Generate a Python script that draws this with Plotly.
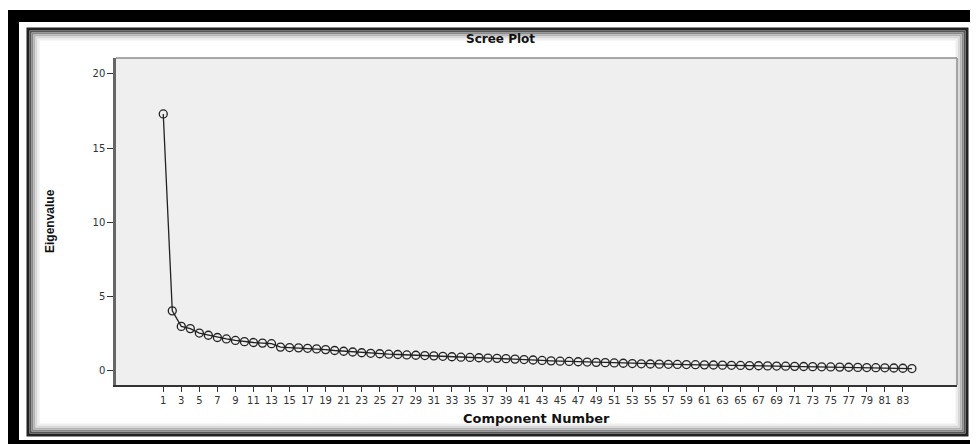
import plotly.graph_objects as go

components = list(range(1, 85))
eigenvalues = [
    17.3, 4.0, 2.95, 2.8, 2.5, 2.35, 2.2, 2.1, 2.0, 1.92,
    1.86, 1.82, 1.78, 1.55, 1.52, 1.50, 1.47, 1.43, 1.38, 1.32,
    1.27, 1.22, 1.17, 1.13, 1.10, 1.07, 1.05, 1.02, 1.00, 0.98,
    0.96, 0.93, 0.90, 0.87, 0.85, 0.83, 0.81, 0.79, 0.77, 0.74,
    0.71, 0.68, 0.65, 0.62, 0.60, 0.58, 0.56, 0.54, 0.52, 0.50,
    0.48, 0.46, 0.44, 0.42, 0.41, 0.40, 0.39, 0.38, 0.37, 0.36,
    0.35, 0.34, 0.33, 0.32, 0.31, 0.30, 0.29, 0.28, 0.27, 0.26,
    0.25, 0.24, 0.23, 0.22, 0.21, 0.20, 0.19, 0.18, 0.17, 0.16,
    0.15, 0.14, 0.12, 0.10,
]
x_tick_vals = list(range(1, 84, 2))
x_tick_text = [str(v) for v in x_tick_vals]
y_tick_vals = [0, 5, 10, 15, 20]

OFF = 8  # page body margin
W, H = 978 - OFF, 444 - OFF
# plot area in page pixels
L, R, T, B = 116, 957, 58, 385


def px(x):
    return (x - L) / (R - L)


def py(y):
    return (B - y) / (B - T)


fig = go.Figure()
fig.add_trace(go.Scatter(
    x=components, y=eigenvalues, mode="lines+markers",
    line=dict(color="#222222", width=1.3),
    marker=dict(symbol="circle-open", size=8, color="#222222",
                line=dict(color="#222222", width=1.3)),
    showlegend=False, hoverinfo="x+y",
))

shapes = []
# outer thick black frame
shapes.append(dict(type="rect", xref="paper", yref="paper",
                   x0=px(13), x1=px(986), y0=py(16), y1=py(446),
                   line=dict(color="black", width=12), fillcolor="rgba(0,0,0,0)", layer="above"))
# inner frame with bevel shadow
inner = [(0, "#222222", 3), (2.5, "#555555", 2), (4.5, "#8a8a8a", 2), (6.5, "#b5b5b5", 2),
         (8.5, "#d8d8d8", 2), (10.5, "#eeeeee", 2)]
for off, col, w in inner:
    shapes.append(dict(type="rect", xref="paper", yref="paper",
                       x0=px(28 + off), x1=px(967 - off), y0=py(29 + off), y1=py(435 - off),
                       line=dict(color=col, width=w), fillcolor="rgba(0,0,0,0)", layer="below"))
# top & right plot border (lighter)
shapes.append(dict(type="line", xref="paper", yref="paper", x0=0, x1=1, y0=1, y1=1,
                   line=dict(color="#8c8c8c", width=1.5)))
shapes.append(dict(type="line", xref="paper", yref="paper", x0=1, x1=1, y0=0, y1=1,
                   line=dict(color="#8c8c8c", width=1.5)))

annotations = [
    dict(text="<b>Scree Plot</b>", xref="paper", yref="paper", x=px(500), y=py(39),
         showarrow=False, font=dict(family="DejaVu Sans, Liberation Sans", size=12, color="#111111"),
         xanchor="center", yanchor="middle"),
    dict(text="<b>Eigenvalue</b>", xref="paper", yref="paper", x=px(50), y=py(221),
         showarrow=False, textangle=-90,
         font=dict(family="Liberation Sans Narrow, Liberation Sans, Arial", size=12, color="#111111"),
         xanchor="center", yanchor="middle"),
    dict(text="<b>Component Number</b>", xref="paper", yref="paper", x=px(536), y=py(418),
         showarrow=False, font=dict(family="DejaVu Sans, Liberation Sans", size=13, color="#111111"),
         xanchor="center", yanchor="middle"),
]

fig.update_layout(
    width=W, height=H,
    margin=dict(l=L - OFF, r=W - (R - OFF), t=T - OFF, b=H - (B - OFF), pad=0),
    paper_bgcolor="white", plot_bgcolor="#efefef",
    shapes=shapes, annotations=annotations,
    font=dict(family="DejaVu Sans, Liberation Sans", size=10, color="#333333"),
    xaxis=dict(range=[-4.24, 89.0], tickmode="array", tickvals=x_tick_vals, ticktext=x_tick_text,
               tickangle=0, ticks="outside", ticklen=5, tickcolor="#333333", tickwidth=1,
               showline=True, linecolor="#333333", linewidth=2, showgrid=False, zeroline=False,
               tickfont=dict(family="DejaVu Sans, Liberation Sans", size=10, color="#333333")),
    yaxis=dict(range=[-1.01, 21.08], tickmode="array", tickvals=y_tick_vals,
               ticks="outside", ticklen=6, tickcolor="#333333", tickwidth=1,
               showline=True, linecolor="#666666", linewidth=2.5, showgrid=False, zeroline=False,
               tickfont=dict(family="DejaVu Sans, Liberation Sans", size=10, color="#333333")),
)

fig.write_html("out.html")
